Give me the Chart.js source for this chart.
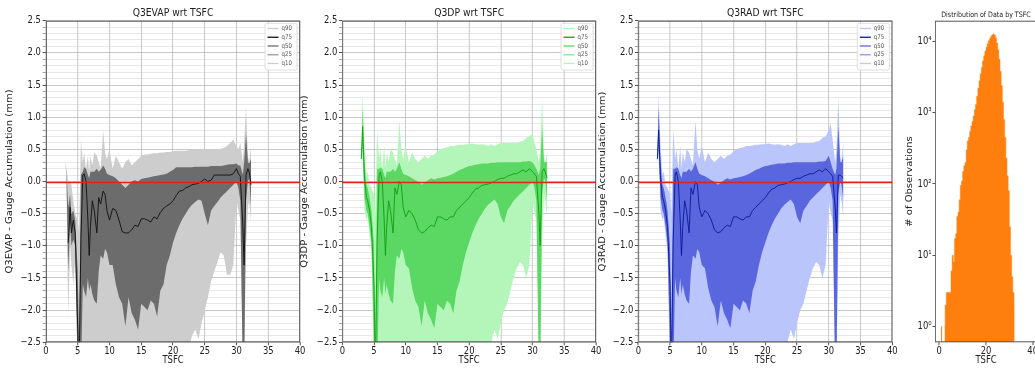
<!DOCTYPE html>
<html>
<head>
<meta charset="utf-8">
<script src="https://cdn.jsdelivr.net/npm/chart.js@4.4.1/dist/chart.umd.min.js"></script>
<style>
  body { margin: 0; width: 1035px; height: 369px; overflow: hidden; background: #fff; position: relative; }
  canvas { position: absolute; top: 0; }
</style>
</head>
<body>
<canvas id="evap"></canvas>
<canvas id="dp"></canvas>
<canvas id="rad"></canvas>
<canvas id="hist"></canvas>
<script>
// TSFC bins used by the quantile panels
const tsfc = [3.0,3.2,3.5,3.8,4.0,4.3,4.6,5.0,5.2,5.5,5.8,6.0,6.3,6.6,6.8,7.0,7.3,7.6,8.0,8.3,8.6,9.0,9.3,9.6,
  10.0,10.5,11.0,11.5,12.0,12.5,13.0,13.5,14.0,14.5,15.0,15.5,16.0,16.5,17.0,17.5,18.0,18.5,19.0,19.5,
  20.0,20.5,21.0,21.5,22.0,22.5,23.0,23.5,24.0,24.5,25.0,25.5,26.0,26.5,27.0,27.5,28.0,28.5,29.0,29.5,
  30.0,30.3,30.6,31.0,31.2,31.5,31.8,32.0,32.3];

// Q3EVAP - gauge
const evapQ90 = [0.30,0.22,0.00,0.00,-0.05,-0.30,-0.50,-0.60,-0.80,0.65,0.30,0.45,0.20,0.40,0.15,0.40,0.25,0.45,0.40,0.30,0.20,0.80,0.45,0.35,0.50,
  0.20,0.40,0.30,0.20,0.30,0.35,0.25,0.30,0.35,0.40,0.42,0.42,0.43,0.44,0.44,0.45,0.45,0.46,0.46,0.47,0.48,0.48,0.48,0.48,0.49,
  0.49,0.49,0.50,0.50,0.50,0.50,0.50,0.50,0.50,0.51,0.52,0.55,0.60,0.65,0.55,0.50,0.60,0.30,0.60,1.15,0.40,0.30,0.55];
const evapQ75 = [0.30,0.20,-0.40,-0.20,-0.50,-0.45,-0.60,-1.40,-2.60,0.10,0.15,0.22,0.20,0.10,0.05,0.15,0.15,0.15,0.20,0.15,0.18,0.25,0.20,0.12,0.10,
  0.08,0.05,0.00,-0.05,-0.10,-0.05,0.00,0.02,0.00,0.04,0.05,0.06,0.07,0.08,0.09,0.10,0.11,0.12,0.15,0.18,0.22,0.22,0.22,0.22,0.22,
  0.22,0.23,0.23,0.23,0.23,0.23,0.24,0.24,0.24,0.24,0.25,0.26,0.27,0.27,0.28,0.25,0.25,0.10,0.30,0.75,0.30,0.28,0.35];
const evapQ50 = [null,null,-0.95,-0.40,-0.80,-0.60,-0.80,-2.30,-3.00,-0.90,0.10,0.12,0.00,-0.60,-1.15,-0.70,-0.30,-0.45,-0.80,-0.25,-0.35,-0.15,-0.20,-0.45,-0.60,
  -0.42,-0.45,-0.60,-0.78,-0.80,-0.80,-0.75,-0.68,-0.70,-0.58,-0.58,-0.60,-0.63,-0.55,-0.58,-0.48,-0.42,-0.38,-0.35,-0.30,-0.22,-0.15,-0.14,-0.10,-0.08,
  -0.05,-0.04,-0.03,0.00,0.04,0.00,0.02,0.10,0.10,0.10,0.10,0.10,0.10,0.12,0.20,0.12,0.08,-0.70,-1.30,0.10,0.20,0.15,-0.05];
const evapQ25 = [0.30,0.20,-1.40,-0.65,-1.00,-0.90,-1.00,-3.00,-3.00,-3.00,-1.60,-1.70,-1.80,-1.50,-1.70,-1.60,-1.75,-1.85,-1.90,-1.40,-1.15,-1.20,-1.05,-1.10,-1.30,
  -1.30,-1.60,-1.80,-1.90,-2.25,-1.80,-2.05,-2.15,-2.30,-1.90,-1.95,-2.00,-1.85,-1.90,-2.10,-1.70,-1.60,-1.30,-1.15,-0.95,-0.80,-0.68,-0.58,-0.50,-0.42,
  -0.36,-0.32,-0.28,-0.30,-0.50,-0.68,-0.45,-0.38,-0.32,-0.25,-0.20,-0.15,-0.10,-0.05,0.00,-0.10,-0.30,-3.00,-3.00,-0.30,0.00,0.05,-0.40];
const evapQ10 = [0.28,0.10,-2.10,-1.00,-1.30,-1.60,-1.20,-3.00,-3.00,-3.00,-3.00,-3.00,-3.00,-3.00,-3.00,-3.00,-3.00,-3.00,-3.00,-3.00,-3.00,-3.00,-3.00,-3.00,-3.00,
  -3.00,-3.00,-3.00,-3.00,-3.00,-3.00,-3.00,-3.00,-3.00,-3.00,-3.00,-3.00,-3.00,-3.00,-3.00,-3.00,-3.00,-3.00,-3.00,-3.00,-3.00,-3.00,-3.00,-3.00,-2.60,
  -2.40,-2.30,-2.45,-2.20,-2.00,-1.80,-1.55,-1.40,-1.25,-1.10,-1.15,-1.45,-1.45,-1.30,-0.30,-0.45,-0.60,-3.00,-3.00,-1.00,-0.40,-0.30,-0.65];

// Q3DP - gauge
const dpQ90 = [0.45,1.35,0.55,0.10,0.15,-0.05,-0.10,-0.20,-0.50,0.80,0.35,0.50,0.20,0.55,0.20,0.45,0.30,0.50,0.45,0.35,0.25,0.95,0.50,0.35,0.55,
  0.30,0.45,0.35,0.30,0.35,0.40,0.35,0.40,0.42,0.47,0.50,0.52,0.53,0.55,0.55,0.56,0.57,0.57,0.58,0.58,0.59,0.58,0.57,0.58,0.57,
  0.55,0.58,0.55,0.58,0.60,0.60,0.60,0.60,0.60,0.60,0.62,0.63,0.68,0.70,0.75,0.60,0.50,0.30,0.50,1.30,0.40,0.30,0.45];
const dpQ75 = [0.40,1.15,0.30,-0.05,-0.10,-0.25,-0.45,-1.00,-2.60,0.20,0.20,0.22,0.20,0.10,0.05,0.15,0.15,0.15,0.20,0.15,0.20,0.30,0.20,0.12,0.10,
  0.08,0.05,0.02,0.00,-0.05,-0.02,0.02,0.05,0.03,0.05,0.06,0.07,0.08,0.10,0.12,0.15,0.18,0.20,0.22,0.24,0.25,0.26,0.27,0.28,0.28,
  0.28,0.29,0.29,0.30,0.30,0.30,0.30,0.30,0.30,0.30,0.30,0.31,0.31,0.32,0.30,0.25,0.20,0.10,0.20,0.85,0.30,0.30,0.30];
const dpQ50 = [0.35,0.85,0.05,-0.25,-0.30,-0.45,-0.70,-1.60,-3.00,-0.90,0.10,0.15,0.00,-0.60,-1.15,-0.70,-0.30,-0.45,-0.80,-0.10,-0.20,0.00,-0.05,-0.40,-0.55,
  -0.45,-0.50,-0.60,-0.75,-0.80,-0.78,-0.72,-0.68,-0.70,-0.55,-0.55,-0.58,-0.60,-0.55,-0.55,-0.45,-0.40,-0.35,-0.30,-0.25,-0.18,-0.12,-0.10,-0.06,-0.05,
  -0.04,-0.02,0.00,0.03,0.05,0.05,0.08,0.10,0.12,0.12,0.15,0.18,0.15,0.20,0.15,0.12,0.08,-0.50,-1.00,0.15,0.20,0.15,0.05];
const dpQ25 = [0.30,0.55,-0.25,-0.45,-0.50,-0.70,-0.95,-2.60,-3.00,-3.00,-1.50,-1.70,-1.80,-1.50,-1.75,-1.60,-1.75,-1.85,-1.90,-1.40,-1.15,-1.20,-1.05,-1.10,-1.30,
  -1.35,-1.65,-1.85,-1.95,-2.25,-1.85,-2.05,-2.15,-2.28,-1.90,-1.95,-2.00,-1.85,-1.90,-2.05,-1.70,-1.55,-1.30,-1.10,-0.95,-0.80,-0.68,-0.58,-0.50,-0.42,
  -0.36,-0.32,-0.28,-0.35,-0.55,-0.65,-0.45,-0.38,-0.30,-0.25,-0.20,-0.15,-0.10,-0.05,0.00,-0.10,-0.30,-3.00,-3.00,-0.20,0.05,0.00,-0.30];
const dpQ10 = [0.30,0.40,-0.45,-0.60,-0.55,-0.85,-1.10,-3.00,-3.00,-3.00,-3.00,-3.00,-3.00,-3.00,-3.00,-3.00,-3.00,-3.00,-3.00,-3.00,-3.00,-3.00,-3.00,-3.00,-3.00,
  -3.00,-3.00,-3.00,-3.00,-3.00,-3.00,-3.00,-3.00,-3.00,-3.00,-3.00,-3.00,-3.00,-3.00,-3.00,-3.00,-3.00,-3.00,-3.00,-3.00,-3.00,-3.00,-3.00,-3.00,-3.00,
  -2.70,-2.50,-2.30,-2.45,-2.20,-2.00,-1.90,-1.70,-1.50,-1.35,-1.25,-1.30,-1.50,-1.30,-0.30,-0.50,-0.60,-3.00,-3.00,-0.90,-0.20,-0.30,-0.55];

// Q3RAD - gauge
const radQ90 = [0.45,1.35,0.55,0.10,0.15,-0.05,-0.10,-0.20,-0.50,0.80,0.35,0.50,0.20,0.55,0.20,0.45,0.30,0.50,0.45,0.35,0.25,0.95,0.50,0.35,0.55,
  0.30,0.45,0.35,0.30,0.35,0.40,0.35,0.40,0.42,0.47,0.50,0.52,0.53,0.55,0.55,0.56,0.57,0.57,0.58,0.58,0.59,0.58,0.57,0.58,0.57,
  0.55,0.58,0.55,0.58,0.60,0.60,0.60,0.60,0.60,0.60,0.62,0.63,0.68,0.70,0.80,0.90,0.65,0.30,0.50,1.30,0.40,0.30,0.65];
const radQ75 = [0.40,1.15,0.30,-0.05,-0.10,-0.25,-0.45,-1.00,-2.60,0.20,0.20,0.22,0.20,0.10,0.05,0.15,0.15,0.15,0.20,0.15,0.20,0.30,0.20,0.12,0.10,
  0.08,0.05,0.02,0.00,-0.05,-0.02,0.02,0.05,0.03,0.05,0.06,0.07,0.08,0.10,0.12,0.15,0.18,0.20,0.22,0.24,0.25,0.26,0.27,0.28,0.28,
  0.28,0.29,0.29,0.30,0.30,0.30,0.30,0.30,0.30,0.30,0.30,0.31,0.31,0.32,0.40,0.30,0.20,0.10,0.20,0.85,0.30,0.30,0.40];
const radQ50 = [0.35,0.80,0.05,-0.25,-0.30,-0.45,-0.70,-1.60,-3.00,-0.90,0.10,0.15,0.00,-0.60,-1.15,-0.70,-0.30,-0.45,-0.80,-0.10,-0.20,0.00,-0.05,-0.40,-0.55,
  -0.45,-0.50,-0.60,-0.75,-0.80,-0.78,-0.72,-0.68,-0.70,-0.55,-0.55,-0.58,-0.60,-0.55,-0.55,-0.45,-0.40,-0.35,-0.30,-0.25,-0.18,-0.12,-0.10,-0.06,-0.05,
  -0.04,-0.02,0.00,0.03,0.05,0.05,0.08,0.10,0.12,0.12,0.15,0.18,0.15,0.20,0.15,0.12,0.08,-0.40,-0.80,0.10,0.10,0.08,0.05];
const radQ25 = [0.30,0.55,-0.25,-0.45,-0.50,-0.70,-0.95,-2.60,-3.00,-3.00,-1.50,-1.70,-1.80,-1.50,-1.75,-1.60,-1.75,-1.85,-1.90,-1.40,-1.15,-1.20,-1.05,-1.10,-1.30,
  -1.35,-1.65,-1.85,-1.95,-2.25,-1.85,-2.05,-2.15,-2.28,-1.90,-1.95,-2.00,-1.85,-1.90,-2.05,-1.70,-1.55,-1.30,-1.10,-0.95,-0.80,-0.68,-0.58,-0.50,-0.42,
  -0.36,-0.32,-0.28,-0.35,-0.55,-0.65,-0.45,-0.38,-0.30,-0.25,-0.20,-0.15,-0.10,-0.05,0.00,-0.10,-0.30,-3.00,-3.00,-0.20,0.00,-0.05,-0.30];
const radQ10 = [0.30,0.40,-0.45,-0.60,-0.55,-0.85,-1.10,-3.00,-3.00,-3.00,-3.00,-3.00,-3.00,-3.00,-3.00,-3.00,-3.00,-3.00,-3.00,-3.00,-3.00,-3.00,-3.00,-3.00,-3.00,
  -3.00,-3.00,-3.00,-3.00,-3.00,-3.00,-3.00,-3.00,-3.00,-3.00,-3.00,-3.00,-3.00,-3.00,-3.00,-3.00,-3.00,-3.00,-3.00,-3.00,-3.00,-3.00,-3.00,-3.00,-3.00,
  -2.70,-2.50,-2.30,-2.45,-2.20,-2.00,-1.90,-1.70,-1.50,-1.35,-1.25,-1.30,-1.50,-1.30,-0.30,-0.50,-0.60,-3.00,-3.00,-0.90,-0.20,-0.30,-0.55];

// histogram of observations by TSFC (bin centres, 0.5 wide)
const histTsfc = [0.75,1.25,1.75,2.25,2.75,3.25,3.75,4.25,4.75,5.25,5.75,6.25,6.75,7.25,7.75,8.25,8.75,9.25,9.75,
  10.25,10.75,11.25,11.75,12.25,12.75,13.25,13.75,14.25,14.75,15.25,15.75,16.25,16.75,17.25,17.75,18.25,18.75,19.25,19.75,
  20.25,20.75,21.25,21.75,22.25,22.75,23.25,23.75,24.25,24.75,25.25,25.75,26.25,26.75,27.25,27.75,28.25,28.75,29.25,29.75,
  30.25,30.75,31.25,31.75,32.25];
const histCount = [1,1,null,1,2,3,3,3,3,6,10,8,17,20,35,40,60,95,110,
  150,180,200,300,400,450,550,650,750,900,1100,1300,1700,2200,2800,3500,4300,5300,6300,7300,
  8300,9300,10200,11000,11800,12400,12700,12300,11200,9500,7600,5600,3800,2400,1400,800,450,230,130,80,
  25,10,5,3,2];

Chart.defaults.font.family = "'DejaVu Sans', sans-serif";
Chart.defaults.color = '#222';
Chart.defaults.animation = false;

// the original figure is squeezed horizontally; each chart is laid out wide and drawn with a scaleX
const SX = 0.84;

function placeCanvas(id, left, width) {
  const c = document.getElementById(id);
  c.width = Math.round(width / SX);
  c.height = 369;
  c.style.left = left + 'px';
  return c;
}

function fmtTick(v) {
  const t = Math.round(v * 10);
  if (t % 5 !== 0) return '';
  return (t / 10).toFixed(1).replace('-', '\u2212');
}

// squeeze, zero line, frame and the small legend box in the corner
const frame = {
  id: 'frame',
  beforeDraw(chart) {
    chart.ctx.save();
    chart.ctx.setTransform(SX, 0, 0, 1, 0, 0);
  },
  afterDraw(chart, args, opts) {
    const {ctx, chartArea: a} = chart;
    ctx.save();
    if (opts.zeroLine) {
      const y0 = Math.round(chart.scales.y.getPixelForValue(0)) + 0.5;
      ctx.strokeStyle = 'rgb(228,32,28)';
      ctx.lineWidth = 1.3;
      ctx.beginPath(); ctx.moveTo(a.left, y0); ctx.lineTo(a.right, y0); ctx.stroke();
    }
    ctx.strokeStyle = '#555';
    ctx.lineWidth = 1;
    ctx.strokeRect(a.left + 0.5, a.top + 0.5, a.right - a.left - 1, a.bottom - a.top - 1);
    if (opts.legend) {
      const w = 32 / SX, h = 46.7;
      const x0 = a.right - 35 / SX, y0 = a.top + 2.6;
      ctx.fillStyle = 'rgba(255,255,255,0.85)';
      ctx.strokeStyle = '#dcdcdc';
      ctx.beginPath();
      ctx.roundRect(x0, y0, w, h, 2);
      ctx.fill(); ctx.stroke();
      ctx.font = "6.5px 'DejaVu Sans'";
      ctx.textBaseline = 'middle';
      chart.data.datasets.forEach((d, i) => {
        const yy = y0 + 5.2 + i * 8.75;
        ctx.strokeStyle = d.legendColor;
        ctx.lineWidth = 1.3;
        ctx.beginPath(); ctx.moveTo(x0 + 2.5 / SX, yy); ctx.lineTo(x0 + 13.5 / SX, yy); ctx.stroke();
        ctx.fillStyle = '#555';
        ctx.fillText(d.label, x0 + 16.5 / SX, yy);
      });
    }
    ctx.restore();
    ctx.restore();
  }
};

function bands(q90, q75, q50, q25, q10, col) {
  const pts = arr => tsfc.map((x, i) => ({x: x, y: arr[i]}));
  const none = 'rgba(0,0,0,0)';
  return [
    {label: 'q90', data: pts(q90), fill: 4, backgroundColor: col.light, borderColor: none, legendColor: col.light, order: 3},
    {label: 'q75', data: pts(q75), fill: 3, backgroundColor: col.dark, borderColor: none, legendColor: col.line, order: 2},
    {label: 'q50', data: pts(q50), fill: false, borderColor: col.line, borderWidth: 1, legendColor: col.dark, order: 1},
    {label: 'q25', data: pts(q25), fill: false, borderColor: none, legendColor: col.mid, order: 2},
    {label: 'q10', data: pts(q10), fill: false, borderColor: none, legendColor: col.light, order: 3}
  ];
}

// left/width/areaLeft/areaRight are page pixels
function quantPanel(id, left, width, areaLeft, areaRight, title, ylabel, sets) {
  const c = placeCanvas(id, left, width);
  const yWidth = (areaLeft - left) / SX;
  const padRight = c.width - (areaRight - left) / SX;
  new Chart(c, {
    type: 'line',
    data: {datasets: sets},
    options: {
      responsive: false,
      layout: {padding: {left: 0, right: padRight, top: 0, bottom: 0}},
      elements: {point: {radius: 0}, line: {tension: 0, borderWidth: 0}},
      plugins: {
        legend: {display: false},
        tooltip: {enabled: false},
        title: {display: true, text: title, fullSize: false, font: {size: 11, weight: 'normal'}, color: '#222', padding: {top: 6.4, bottom: 1.1}},
        frame: {zeroLine: true, legend: true}
      },
      scales: {
        x: {
          type: 'linear', min: 0, max: 40, z: 1,
          ticks: {stepSize: 5, font: {size: 10}, padding: 0, maxRotation: 0},
          grid: {color: 'rgba(170,170,170,0.7)', tickLength: 3, tickColor: '#444'},
          border: {display: false},
          title: {display: true, text: 'TSFC', font: {size: 10}, padding: {top: 0, bottom: 3}},
          afterFit: s => { s.height = 26.7; s.paddingLeft = 0; s.paddingRight = 0; }
        },
        y: {
          min: -2.5, max: 2.5, z: 1,
          afterBuildTicks: s => { s.ticks = Array.from({length: 51}, (_, k) => ({value: (k - 25) / 10})); },
          ticks: {autoSkip: false, font: {size: 10}, padding: 2, callback: v => fmtTick(v)},
          grid: {
            tickLength: 4,
            color: c => Math.round(c.tick.value * 10) % 5 === 0 ? 'rgba(170,170,170,0.7)' : 'rgba(200,200,200,0.45)',
            tickColor: c => Math.round(c.tick.value * 10) % 5 === 0 ? '#444' : '#999'
          },
          border: {display: false},
          title: {display: true, text: ylabel, font: {size: 10}, padding: {top: 6, bottom: 0}},
          afterFit: s => { s.width = yWidth; s.paddingTop = 0; s.paddingBottom = 0; }
        }
      }
    },
    plugins: [frame]
  });
}

quantPanel('evap', 0, 310, 46, 300, 'Q3EVAP wrt TSFC', 'Q3EVAP - Gauge Accumulation (mm)',
  bands(evapQ90, evapQ75, evapQ50, evapQ25, evapQ10, {light: '#cdcdcd', dark: '#6c6c6c', line: '#111111', mid: '#9a9a9a'}));
quantPanel('dp', 295, 311, 342.3, 596, 'Q3DP wrt TSFC', 'Q3DP - Gauge Accumulation (mm)',
  bands(dpQ90, dpQ75, dpQ50, dpQ25, dpQ10, {light: '#b4f6b9', dark: '#5bd764', line: '#10a010', mid: '#86e48d'}));
quantPanel('rad', 593, 310, 638.3, 892.3, 'Q3RAD wrt TSFC', 'Q3RAD - Gauge Accumulation (mm)',
  bands(radQ90, radQ75, radQ50, radQ25, radQ10, {light: '#bac5fc', dark: '#5a66dd', line: '#0a1a9a', mid: '#8c96ef'}));

const supers = {1: '10\u2070', 10: '10\u00b9', 100: '10\u00b2', 1000: '10\u00b3', 10000: '10\u2074'};

// histogram drawn as a filled step outline (no seams between bins)
const hc = placeCanvas('hist', 899, 160);
new Chart(hc, {
  type: 'line',
  data: {
    datasets: [{
      label: 'count',
      data: histTsfc.map((x, i) => ({x: x, y: histCount[i]})),
      stepped: 'middle',
      fill: 'start',
      backgroundColor: '#ff7f0e',
      borderColor: '#ff7f0e',
      borderWidth: 0.5,
      pointRadius: 0
    }]
  },
  options: {
    responsive: false,
    layout: {padding: {left: 0, right: hc.width - (1037 - 899) / SX, top: 0, bottom: 0}},
    plugins: {
      legend: {display: false},
      tooltip: {enabled: false},
      title: {display: true, text: 'Distribution of Data by TSFC', fullSize: false, font: {size: 7.5, weight: 'normal'}, color: '#222', padding: {top: 10.5, bottom: 1.2}},
      frame: {zeroLine: false, legend: false}
    },
    scales: {
      x: {
        type: 'linear', min: -1.84, max: 41.84,
        afterBuildTicks: s => { s.ticks = [0, 20, 40].map(v => ({value: v})); },
        ticks: {font: {size: 10}, padding: 0, maxRotation: 0},
        grid: {drawOnChartArea: false, tickLength: 3, color: '#444'},
        border: {display: false},
        title: {display: true, text: 'TSFC', font: {size: 10}, padding: {top: 0, bottom: 3}},
        afterFit: s => { s.height = 26.7; s.paddingLeft = 0; s.paddingRight = 0; }
      },
      y: {
        type: 'logarithmic', min: 0.64, max: 19500,
        afterBuildTicks: s => { s.ticks = [1, 10, 100, 1000, 10000].map(v => ({value: v})); },
        ticks: {autoSkip: false, font: {size: 10}, padding: 1, callback: v => supers[v] || ''},
        grid: {drawOnChartArea: false, tickLength: 3, color: '#444'},
        border: {display: false},
        title: {display: true, text: '# of Observations', font: {size: 10}, padding: {top: 7, bottom: 0}},
        afterFit: s => { s.width = 36 / SX; s.paddingTop = 0; s.paddingBottom = 0; }
      }
    }
  },
  plugins: [frame]
});
</script>
</body>
</html>
